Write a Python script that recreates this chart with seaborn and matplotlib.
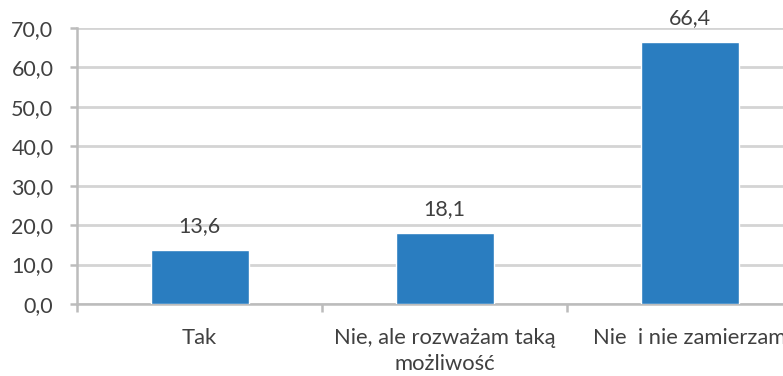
import matplotlib
matplotlib.use("Agg")
import matplotlib.pyplot as plt
from matplotlib.ticker import FixedLocator
import seaborn as sns
import pandas as pd

# Survey answers and their percentage shares
categories = ["Tak", "Nie, ale rozważam taką\nmożliwość", "Nie  i nie zamierzam"]
values = [13.6, 18.1, 66.4]
y_ticks = [0, 10, 20, 30, 40, 50, 60, 70]

df = pd.DataFrame({"odpowiedz": categories, "procent": values})

sns.set_theme(style="white")
plt.rcParams["font.family"] = ["Lato", "DejaVu Sans"]

text_color = "#404040"
grid_color = "#d4d4d4"
bar_color = "#2a7dc0"

fig = plt.figure(figsize=(7.83, 3.76), dpi=100)
# Plot area runs past the right edge of the canvas
ax = fig.add_axes([77 / 783, 72 / 376, 735 / 783, 276 / 376])

sns.barplot(data=df, x="odpowiedz", y="procent", order=categories,
            color=bar_color, width=0.4, saturation=1, ax=ax, zorder=3)

ax.set_xlim(-0.5, 2.5)
ax.set_ylim(0, 70)
ax.set_yticks(y_ticks)
ax.set_yticklabels([f"{v:.1f}".replace(".", ",") for v in y_ticks])
ax.set_xlabel("")
ax.set_ylabel("")

ax.yaxis.grid(True, color=grid_color, linewidth=2, zorder=0)
ax.xaxis.grid(False)

for side in ["top", "right"]:
    ax.spines[side].set_visible(False)
for side in ["left", "bottom"]:
    ax.spines[side].set_color("#bcbcbc")
    ax.spines[side].set_linewidth(1.8)

ax.tick_params(axis="y", which="major", left=True, length=5, width=1.8,
               color="#bcbcbc", pad=12, labelsize=15.5, labelcolor=text_color)
ax.tick_params(axis="x", which="major", bottom=False, length=0, pad=17,
               labelsize=15.8, labelcolor=text_color)
ax.xaxis.set_minor_locator(FixedLocator([-0.5, 0.5, 1.5, 2.5]))
ax.tick_params(axis="x", which="minor", bottom=True, length=6, width=1.8,
               color="#bcbcbc")
for lbl in ax.get_xticklabels():
    lbl.set_linespacing(1.4)

for i, v in enumerate(values):
    ax.annotate(f"{v:.1f}".replace(".", ","), xy=(i, v), xytext=(0, 10),
                textcoords="offset points", ha="center", va="bottom",
                fontsize=15.5, color=text_color, annotation_clip=False)

fig.savefig("out.png", dpi=100)
